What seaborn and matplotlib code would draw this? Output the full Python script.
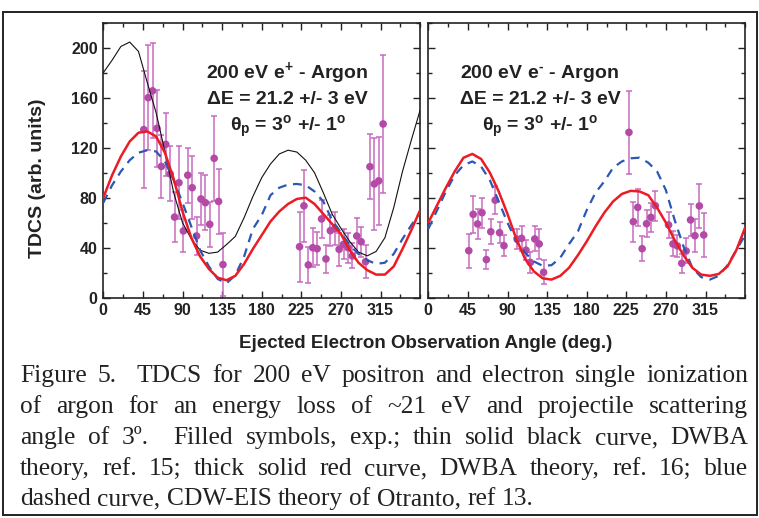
import matplotlib
matplotlib.use("Agg")
import matplotlib.pyplot as plt
import seaborn as sns
import pandas as pd
from matplotlib.patches import Rectangle
from matplotlib.ticker import MultipleLocator

# -----------------------------------
# Theory curves, read every 10 degrees (0..360)
# -----------------------------------
theory_angle = list(range(0, 361, 10))

pos_dwba15 = [180, 190, 201, 204.5, 197, 172, 148, 117, 84, 60, 47, 38, 35.5, 36.5, 42.5,
              49, 64, 81, 96, 107, 115, 118, 116.5, 110, 100, 84, 67, 55.5, 45, 36.5,
              33.5, 37, 48, 72, 101, 126, 150]
pos_dwba16 = [80, 98, 113, 125, 132, 133, 129, 116, 95, 69, 48, 33, 23, 16, 14,
              17.5, 27, 39, 50, 61, 69, 75, 79, 80, 75, 67, 59, 51, 38, 28,
              22, 18.5, 18.5, 25, 39, 54, 70]
pos_cdw = [76, 90, 101, 110, 116, 118, 117, 109, 94, 76, 57, 38, 25, 15, 11.5,
           18, 33, 55, 66, 82, 88, 90.5, 91, 90, 85, 77, 62, 52, 42, 35,
           30, 27, 28, 35, 47, 58, 68]

ele_dwba16 = [60, 74, 88, 101, 112, 115, 111, 100, 85, 67, 47, 31, 21, 15.5, 14.5,
              17.5, 24, 34, 45, 57, 68, 77, 83, 85.5, 85, 82, 72, 60, 46, 34,
              24, 18.5, 17.5, 19, 25, 38, 56]
ele_cdw = [55, 70, 85, 98, 106, 109, 105, 94, 77, 60, 45, 36, 29, 25.5, 26,
           32, 43, 53, 70, 84, 93, 104, 109, 111.5, 112, 108, 101, 86, 62, 41,
           24, 16.5, 14.5, 17.5, 26, 38, 50]

# -----------------------------------
# Experimental points
# -----------------------------------
pos_angle = [46, 51, 56, 61, 66, 71, 76, 81, 86, 91, 96, 101, 106, 111, 116, 121, 126, 131, 136,
             223, 228, 233, 238, 243, 248, 253, 258, 263, 268, 273, 278, 283, 288, 293, 298,
             303, 308, 313, 318]
pos_tdcs = [134.5, 160, 165.5, 135.5, 105, 122.7, 99, 64.5, 92, 53.4, 98, 88, 49.4, 79, 76,
            58.7, 111.5, 77, 26.5,
            40.8, 73.5, 26.2, 40, 39.2, 63, 31, 53.6, 55.2, 38.7, 42.7, 40, 33.4, 49.4, 44.8,
            28.8, 104.8, 91, 93.5, 139]
pos_err = [47, 42, 38, 31, 25, 25, 22, 20, 29, 17, 22, 25, 15, 21, 22, 18, 34, 26, 25,
           28, 29, 14.5, 15.5, 13, 15, 11.5, 12.6, 13, 13.4, 12, 12, 10, 14, 12, 13,
           26, 37, 35, 55]

ele_angle = [46, 51, 56, 61, 66, 71, 76, 81, 86, 101, 106, 111, 116, 121, 126, 131,
             228, 233, 238, 243, 248, 253, 258, 273, 278, 283, 288, 293, 298, 303, 308, 313]
ele_tdcs = [37.6, 66.7, 59, 68, 30.5, 52.8, 78, 52, 41.6, 46.7, 47.5, 38, 28.2, 47, 43, 20.3,
            132.3, 60.8, 72.3, 39.2, 59.2, 64.3, 73.6, 58.2, 43, 41.4, 27.5, 37.4, 62.2, 49.6,
            73.4, 50.2]
ele_err = [13.7, 15, 12, 12, 7.5, 10, 11, 8.5, 8.5, 8, 10, 8, 8.5, 10, 12, 9.5,
           33, 16, 15, 10, 11, 11.6, 12, 10.4, 10, 9, 7.7, 10, 13, 13, 17.6, 17.6]

xticks = [0, 45, 90, 135, 180, 225, 270, 315]
yticks = [0, 40, 80, 120, 160, 200]

caption = [
    "Figure 5.  TDCS for 200 eV positron and electron single ionization",
    "of argon for an energy loss of ~21 eV and projectile scattering",
    "angle of 3º.  Filled symbols, exp.; thin solid black curve, DWBA",
    "theory, ref. 15; thick solid red curve, DWBA theory, ref. 16; blue",
    "dashed curve, CDW-EIS theory of Otranto, ref 13.",
]

# -----------------------------------
# Style
# -----------------------------------
sns.set_theme(style="ticks")
plt.rcParams["font.family"] = ["Liberation Sans", "DejaVu Sans"]
plt.rcParams["mathtext.fontset"] = "custom"
plt.rcParams["mathtext.rm"] = "Liberation Sans:bold"
plt.rcParams["mathtext.bf"] = "Liberation Sans:bold"
plt.rcParams["mathtext.it"] = "Liberation Sans:bold"
plt.rcParams["mathtext.default"] = "bf"

W, H = 759, 518
RED = "#ec1c24"
BLUE = "#2b58b4"
DOT = "#b24aa6"
BAR = "#c86bbf"


def fp(x, y):
    return x / W, 1 - y / H


fig = plt.figure(figsize=(W / 100, H / 100), dpi=100)
fig.patch.set_facecolor("white")
ax1 = fig.add_axes([103.3 / W, 1 - 297.7 / H, 316.8 / W, 275 / H])
ax2 = fig.add_axes([428.3 / W, 1 - 297.7 / H, 316.8 / W, 275 / H])

theory = pd.DataFrame({
    "angle": theory_angle,
    "pos_dwba15": pos_dwba15, "pos_dwba16": pos_dwba16, "pos_cdw": pos_cdw,
    "ele_dwba16": ele_dwba16, "ele_cdw": ele_cdw,
})
pos = pd.DataFrame({"angle": pos_angle, "tdcs": pos_tdcs, "err": pos_err})
ele = pd.DataFrame({"angle": ele_angle, "tdcs": ele_tdcs, "err": ele_err})

# positron panel
ax1.errorbar(pos["angle"], pos["tdcs"], yerr=pos["err"], fmt="none", ecolor=BAR,
             elinewidth=1.1, capsize=2.2, capthick=1.1, zorder=2)
sns.scatterplot(data=pos, x="angle", y="tdcs", ax=ax1, color=DOT, s=30,
                edgecolor="none", zorder=3, legend=False)
sns.lineplot(data=theory, x="angle", y="pos_dwba15", ax=ax1, color="#111111", lw=0.8, zorder=4)
sns.lineplot(data=theory, x="angle", y="pos_cdw", ax=ax1, color=BLUE, lw=1.6,
             linestyle=(0, (4, 3)), zorder=4)
sns.lineplot(data=theory, x="angle", y="pos_dwba16", ax=ax1, color=RED, lw=1.8, zorder=5)

# electron panel
ax2.errorbar(ele["angle"], ele["tdcs"], yerr=ele["err"], fmt="none", ecolor=BAR,
             elinewidth=1.1, capsize=2.2, capthick=1.1, zorder=2)
sns.scatterplot(data=ele, x="angle", y="tdcs", ax=ax2, color=DOT, s=30,
                edgecolor="none", zorder=3, legend=False)
sns.lineplot(data=theory, x="angle", y="ele_cdw", ax=ax2, color=BLUE, lw=1.6,
             linestyle=(0, (4, 3)), zorder=4)
sns.lineplot(data=theory, x="angle", y="ele_dwba16", ax=ax2, color=RED, lw=1.8, zorder=5)

for ax in (ax1, ax2):
    ax.set_xlim(0, 360)
    ax.set_ylim(0, 220)
    ax.set_xlabel("")
    ax.set_ylabel("")
    ax.set_xticks(xticks)
    ax.set_yticks(yticks)
    ax.xaxis.set_minor_locator(MultipleLocator(22.5))
    ax.yaxis.set_minor_locator(MultipleLocator(20))
    ax.tick_params(which="both", direction="in", top=True, right=True, color="#222222",
                   width=1.0)
    ax.tick_params(which="major", length=5, labelsize=11.5, labelcolor="#222222", pad=4)
    ax.tick_params(which="minor", length=3)
    for lab in ax.get_xticklabels() + ax.get_yticklabels():
        lab.set_fontweight("bold")
    for sp in ax.spines.values():
        sp.set_visible(True)
        sp.set_linewidth(1.2)
        sp.set_color("#222222")
ax2.tick_params(labelleft=False)

# panel annotations
kw = dict(fontsize=14, fontweight="bold", color="#222222", ha="center", va="baseline")
fig.text(*fp(287, 78.5), r"200 eV e$^{+}$ - Argon", **kw)
fig.text(*fp(287, 104.5), "ΔE = 21.2 +/- 3 eV", **kw)
fig.text(*fp(288, 131.5), r"$\theta_{p}$ = 3$^{o}$ +/- 1$^{o}$", **kw)
fig.text(*fp(539, 78.5), r"200 eV e$^{\text{-}}$ - Argon", **kw)
fig.text(*fp(540, 104.5), "ΔE = 21.2 +/- 3 eV", **kw)
fig.text(*fp(540, 131.5), r"$\theta_{p}$ = 3$^{o}$ +/- 1$^{o}$", **kw)

fig.text(*fp(38, 178), "TDCS (arb. units)", rotation=90, fontsize=14, fontweight="bold",
         color="#222222", ha="center", va="center")
fig.text(*fp(426, 343), "Ejected Electron Observation Angle (deg.)", fontsize=13.5,
         fontweight="bold", color="#222222", ha="center", va="center")

# justified caption
cap_size = 18.4
renderer = fig.canvas.get_renderer()
x_left, x_right = 20, 748
baselines = [382, 413, 444, 475, 505]
for i, (line, yb) in enumerate(zip(caption, baselines)):
    words, seps, count = [], [], 0
    for part in line.split(" "):
        if part == "":
            count += 1
            continue
        if words:
            seps.append(count)
        words.append(part)
        count = 1
    texts = [fig.text(0, 1 - yb / H, w, fontsize=cap_size, family="Liberation Serif",
                      color="#222222", va="baseline", ha="left") for w in words]
    widths = [t.get_window_extent(renderer).width for t in texts]
    if i == len(caption) - 1:
        gap = 0.25 * cap_size * 100 / 72
    else:
        gap = (x_right - x_left - sum(widths)) / sum(seps)
    x = x_left
    for j, (t, w) in enumerate(zip(texts, widths)):
        t.set_x(x / W)
        if j < len(seps):
            x += w + gap * seps[j]

# outer frame
fig.add_artist(Rectangle(fp(3, 515), 754 / W, 503 / H, transform=fig.transFigure,
                         fill=False, lw=1.4, edgecolor="#222222"))

fig.savefig("out.png", dpi=100)
